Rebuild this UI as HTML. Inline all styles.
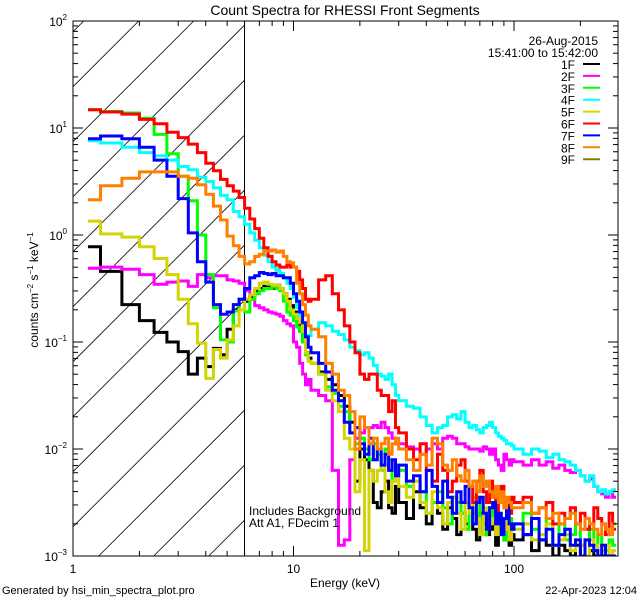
<!DOCTYPE html>
<html><head><meta charset="utf-8">
<style>
html,body{margin:0;padding:0;background:#fff;width:640px;height:600px;overflow:hidden;}
svg{display:block;font-family:"Liberation Sans",sans-serif;}
</style></head>
<body>
<svg id="chart" width="640" height="600" viewBox="0 0 640 600" xmlns="http://www.w3.org/2000/svg">
<rect x="0" y="0" width="640" height="600" fill="#fff"/>
<text x="345" y="15" font-size="14" text-anchor="middle">Count Spectra for RHESSI Front Segments</text>
<defs><clipPath id="plotclip"><rect x="73" y="21" width="545" height="535"/></clipPath></defs>
<g id="hatch"></g>
<line x1="244.5" y1="21" x2="244.5" y2="556" stroke="#000" stroke-width="1"/>
<g id="series" clip-path="url(#plotclip)"></g>
<rect x="73" y="21" width="545" height="535" fill="none" stroke="#000" stroke-width="1"/>
<g id="axes"></g>
<text x="345" y="587" font-size="12" text-anchor="middle">Energy (keV)</text>
<text transform="translate(38,290) rotate(-90)" font-size="12" text-anchor="middle">counts cm<tspan font-size="8" dy="-5">−2</tspan><tspan dy="5"> s</tspan><tspan font-size="8" dy="-5">−1</tspan><tspan dy="5"> keV</tspan><tspan font-size="8" dy="-5">−1</tspan></text>
<text x="249" y="515" font-size="12">Includes Background</text>
<text x="249" y="527" font-size="12">Att A1, FDecim  1</text>
<text x="598" y="45" font-size="12" text-anchor="end">26-Aug-2015</text>
<text x="598" y="57" font-size="12" text-anchor="end">15:41:00 to 15:42:00</text>
<g id="legend"></g>
<text x="2" y="594" font-size="11">Generated by hsi_min_spectra_plot.pro</text>
<text x="637" y="594" font-size="11" text-anchor="end">22-Apr-2023 12:04</text>
</svg>
<script>
const segNames = ["1F","2F","3F","4F","5F","6F","7F","8F","9F"];
const segColors = ["#000000","#ff00ff","#00ff00","#00ffff","#d4d400","#ff0000","#0000ff","#ff8000","#808000"];
const xTickLabels = ["1","10","100"];
const yTickExps = ["2","1","0","−1","−2","−3"];
// log10(counts) per energy bin (bins: 1/3 keV to 12, 1 keV to 30, 2.5 keV to 100, 10 keV to 290)
const log1F = [-0.11,-0.34,-0.65,-0.80,-0.91,-1.0,-1.09,-1.3,-1.15,-1.23,-1.06,-1.12,-0.88,-0.7,-0.6,
 -0.62,-0.58,-0.52,-0.5,-0.48,-0.48,-0.5,-0.47,-0.5,-0.55,-0.6,-0.66,-0.72,-0.8,-0.9,-1.0,-1.1,-1.15,
 -1.2,-1.28,-1.35,-1.4,-1.5,-1.6,-1.75,-2.3,-2.0,-2.1,-2.2,-2.5,-2.55,-2.4,-2.3,-2.55,-2.6,-2.35,
 -2.5,-2.65,-2.4,-2.55,-2.7,-2.5,-2.6,-2.75,-2.55,-2.65,-2.8,-2.6,-2.7,-2.55,-2.75,-2.85,-2.6,-2.7,-2.8,-2.65,-2.75,-2.9,-2.7,-2.75,-2.85,-2.7,-2.9,-2.8,
 -2.85,-2.8,-2.95,-2.85,-2.9,-3.0,-2.9,-2.95,-3.05,-2.9,-3.0,-3.05,-2.95,-3.0,-3.1,-3.0,-3.05,-3.1,-3.05];
const log2F = [-0.31,-0.30,-0.32,-0.37,-0.46,-0.44,-0.43,-0.48,-0.37,-0.4,-0.38,-0.38,-0.42,-0.43,-0.45,
 -0.52,-0.6,-0.66,-0.68,-0.7,-0.72,-0.73,-0.74,-0.76,-0.8,-0.83,-0.85,-1.0,-1.05,-1.2,-1.3,-1.4,-1.35,
 -1.45,-1.5,-1.55,-2.2,-2.9,-2.85,-2.1,-1.9,-1.85,-1.8,-1.8,-1.78,-1.8,-1.75,-1.8,-1.85,-1.9,-1.95,
 -1.95,-1.98,-2.0,-2.05,-2.0,-1.95,-2.0,-1.9,-1.88,-1.9,-1.95,-1.95,-1.98,-2.0,-2.0,-2.0,-2.02,-1.98,-2.0,-2.05,-2.0,-2.1,-2.15,-2.2,-2.05,-2.1,-2.15,-2.1,
 -2.12,-2.15,-2.1,-2.15,-2.12,-2.18,-2.15,-2.2,-2.22,-2.2,-2.25,-2.3,-2.28,-2.35,-2.4,-2.42,-2.45,-2.4,-2.45];
const log3F = [1.17,1.154,1.14,1.09,0.94,0.76,0.55,0.32,0.0,-0.37,-0.68,-0.98,-1.0,-0.71,-0.6,
 -0.72,-0.6,-0.55,-0.52,-0.5,-0.5,-0.48,-0.5,-0.52,-0.62,-0.72,-0.75,-0.8,-0.86,-0.9,-1.0,-1.12,-1.18,
 -1.2,-1.3,-1.42,-1.48,-1.6,-1.65,-1.85,-1.95,-1.9,-2.0,-2.1,-1.95,-2.05,-2.2,-2.0,-2.1,-2.3,-2.15,
 -2.2,-2.35,-2.3,-2.4,-2.6,-2.5,-2.4,-2.55,-2.7,-2.45,-2.5,-2.6,-2.75,-2.55,-2.6,-2.45,-2.7,-2.8,-2.6,-2.55,-2.65,-2.75,-2.6,-2.7,-2.85,-2.6,-2.65,-2.7,
 -2.7,-2.6,-2.75,-2.8,-2.65,-2.9,-2.7,-2.85,-2.8,-2.7,-2.9,-2.85,-2.75,-2.95,-2.8,-2.9,-2.95,-2.85,-2.9];
const log4F = [0.88,0.86,0.82,0.77,0.74,0.70,0.64,0.61,0.54,0.50,0.44,0.37,0.33,0.22,0.17,
 0.1,0.02,-0.05,-0.12,-0.19,-0.25,-0.3,-0.33,-0.36,-0.4,-0.45,-0.5,-0.58,-0.68,-0.8,-0.9,-0.98,-0.94,
 -0.88,-0.82,-0.85,-0.9,-0.93,-0.98,-1.05,-1.08,-1.12,-1.1,-1.15,-1.22,-1.3,-1.32,-1.35,-1.3,-1.4,-1.5,
 -1.55,-1.6,-1.62,-1.7,-1.78,-1.85,-1.8,-1.78,-1.7,-1.68,-1.72,-1.65,-1.75,-1.8,-1.78,-1.82,-1.85,-1.8,-1.78,-1.75,-1.8,-1.85,-1.88,-1.9,-1.92,-1.95,-1.95,-1.97,
 -2.0,-2.05,-2.0,-2.02,-2.08,-2.05,-2.1,-2.12,-2.15,-2.2,-2.25,-2.3,-2.25,-2.35,-2.4,-2.38,-2.42,-2.4,-2.38];
const log5F = [0.13,0.01,-0.02,-0.11,-0.22,-0.37,-0.6,-0.83,-1.01,-1.34,-1.07,-1.15,-0.98,-0.85,-0.7,
 -0.6,-0.56,-0.5,-0.45,-0.44,-0.46,-0.47,-0.47,-0.5,-0.55,-0.62,-0.7,-0.74,-0.78,-0.82,-0.9,-1.1,-1.18,
 -1.2,-1.3,-1.45,-1.55,-1.65,-1.9,-2.0,-2.4,-2.1,-2.95,-2.2,-2.3,-2.2,-2.15,-2.4,-2.5,-2.3,-2.2,
 -2.35,-2.45,-2.3,-2.5,-2.6,-2.4,-2.55,-2.7,-2.5,-2.45,-2.6,-2.75,-2.5,-2.6,-2.45,-2.65,-2.8,-2.55,-2.6,-2.7,-2.65,-2.8,-2.6,-2.7,-2.75,-2.6,-2.85,-2.7,
 -2.75,-2.7,-2.85,-2.8,-2.7,-2.9,-2.85,-2.8,-2.95,-2.85,-2.9,-3.0,-2.85,-2.9,-3.05,-2.95,-2.9,-3.0,-2.95];
const log6F = [1.17,1.15,1.13,1.08,1.04,0.96,0.91,0.85,0.77,0.67,0.60,0.52,0.46,0.41,0.35,
 0.25,0.15,0.06,-0.03,-0.12,-0.2,-0.25,-0.28,-0.3,-0.3,-0.28,-0.3,-0.3,-0.34,-0.42,-0.5,-0.6,-0.62,
 -0.6,-0.42,-0.38,-0.55,-0.7,-0.85,-1.0,-1.1,-1.3,-1.35,-1.3,-1.3,-1.45,-1.5,-1.5,-1.65,-1.55,-1.8,
 -1.85,-2.0,-2.1,-1.95,-2.2,-2.3,-2.05,-2.2,-2.4,-2.3,-2.15,-2.1,-2.3,-2.35,-2.5,-2.3,-2.2,-2.4,-2.5,-2.3,-2.45,-2.6,-2.4,-2.35,-2.55,-2.5,-2.6,-2.45,
 -2.5,-2.45,-2.6,-2.55,-2.5,-2.7,-2.6,-2.65,-2.55,-2.7,-2.6,-2.75,-2.7,-2.55,-2.65,-2.7,-2.8,-2.6,-2.75];
const log7F = [0.90,0.925,0.90,0.82,0.70,0.55,0.34,0.02,-0.25,-0.44,-0.65,-0.74,-0.72,-0.65,-0.6,
 -0.5,-0.4,-0.38,-0.35,-0.36,-0.37,-0.36,-0.38,-0.38,-0.4,-0.4,-0.45,-0.55,-0.62,-0.72,-0.82,-0.95,-1.05,
 -1.1,-1.2,-1.28,-1.45,-1.55,-1.75,-1.85,-1.8,-1.95,-2.05,-1.9,-2.1,-2.0,-2.15,-2.05,-2.2,-2.1,-2.25,
 -2.15,-2.3,-2.25,-2.4,-2.2,-2.35,-2.5,-2.3,-2.45,-2.6,-2.4,-2.5,-2.35,-2.55,-2.7,-2.5,-2.45,-2.6,-2.75,-2.55,-2.5,-2.7,-2.6,-2.8,-2.65,-2.55,-2.7,-2.75,
 -2.7,-2.8,-2.65,-2.85,-2.75,-2.9,-2.8,-2.75,-2.9,-2.85,-3.0,-2.85,-2.9,-2.95,-3.0,-2.9,-3.05,-3.0,-3.0];
const log8F = [0.33,0.46,0.53,0.59,0.59,0.59,0.55,0.53,0.47,0.38,0.27,0.14,-0.01,-0.10,-0.2,
 -0.27,-0.25,-0.2,-0.18,-0.15,-0.15,-0.14,-0.16,-0.15,-0.2,-0.25,-0.26,-0.3,-0.45,-0.55,-0.65,-0.75,-0.85,
 -0.88,-0.95,-1.2,-1.3,-1.45,-1.5,-1.65,-2.0,-1.7,-1.8,-1.95,-1.9,-2.0,-1.95,-1.9,-2.05,-1.95,-1.9,
 -2.0,-2.1,-2.2,-2.05,-2.15,-1.9,-1.95,-2.15,-2.2,-2.1,-2.25,-2.3,-2.2,-2.35,-2.3,-2.4,-2.25,-2.35,-2.3,-2.4,-2.45,-2.35,-2.5,-2.4,-2.55,-2.45,-2.5,-2.55,
 -2.55,-2.5,-2.6,-2.55,-2.65,-2.6,-2.7,-2.65,-2.6,-2.7,-2.75,-2.65,-2.7,-2.75,-2.8,-2.7,-2.75,-2.8,-2.7];
const log9F = [];

const NS = "http://www.w3.org/2000/svg";
const X0 = 73, X1 = 618, Y0 = 21, Y1 = 556, XH = 244.5;
const PXDEC = 220.5, YDEC = 107;
function xs(e){ return X0 + PXDEC*Math.log10(e); }
function ys(l){ return Y0 + (2 - l)*YDEC; }
function mk(tag, attrs, parent){ const el=document.createElementNS(NS,tag); for(const k in attrs) el.setAttribute(k, attrs[k]); parent.appendChild(el); return el; }

const edges = [1.17];
for(let k=0;k<=32;k++) edges.push(4/3 + k/3);
for(let e=13;e<=30;e++) edges.push(e);
for(let k=1;k<=28;k++) edges.push(30 + 2.5*k);
for(let e=110;e<=290;e+=10) edges.push(e);

// hatch lines x + y = c, clipped to hatch rectangle
const hatch = document.getElementById('hatch');
for(let c=49.7; c<900; c+=55){
  const xa = Math.max(X0, c - Y1), xb = Math.min(XH, c - Y0);
  if(xb <= xa) continue;
  const ln = mk('line',{x1:xa,y1:c-xa,x2:xb,y2:c-xb,stroke:'#000','stroke-width':0.8},hatch);
  
  
}

const seriesData = [log1F,log2F,log3F,log4F,log5F,log6F,log7F,log8F,log9F];
const sg = document.getElementById('series');
seriesData.forEach((vals,si)=>{
  if(!vals.length) return;
  let d = "";
  const n = Math.min(vals.length, edges.length-1);
  for(let i=0;i<n;i++){
    const y = Math.min(Y1, Math.max(Y0, ys(vals[i]))).toFixed(1);
    d += (i===0?"M":"L") + xs(edges[i]).toFixed(1) + " " + y + " L" + Math.min(X1, xs(edges[i+1])).toFixed(1) + " " + y + " ";
  }
  const p = mk('path',{d:d,fill:'none',stroke:segColors[si],'stroke-width':3,'stroke-linejoin':'miter'},sg);
  
  
});

const ax = document.getElementById('axes');
for(let dec=0; dec<3; dec++){
  for(let m=1;m<10;m++){
    const e = Math.pow(10,dec)*m;
    const x = xs(e);
    if(x > X1+0.5) break;
    const len = m===1?10:5;
    const t1 = mk('line',{x1:x,y1:Y1,x2:x,y2:Y1-len,stroke:'#000','stroke-width':1},ax);
    
    
    const t2 = mk('line',{x1:x,y1:Y0,x2:x,y2:Y0+len,stroke:'#000','stroke-width':1},ax);
    
    
  }
  const lbl = mk('text',{x:xs(Math.pow(10,dec)),y:573,'font-size':12,'text-anchor':'middle'},ax);
  lbl.textContent = xTickLabels[dec];
  
  
}
for(let i=0;i<yTickExps.length;i++){
  const L = 2 - i;
  const y = ys(L);
  const lbl = mk('text',{x:67,y:y+5,'font-size':12,'text-anchor':'end'},ax);
  lbl.innerHTML = '10<tspan font-size="8" dy="-6">'+yTickExps[i]+'</tspan>';
  
  
  for(let m=1;m<10;m++){
    if(L-1 < -3) break;
    const yy = ys(L - 1 + Math.log10(m));
    const len = m===1?10:5;
    const a = mk('line',{x1:X0,y1:yy,x2:X0+len,y2:yy,stroke:'#000','stroke-width':1},ax);
    
    
    const b = mk('line',{x1:X1,y1:yy,x2:X1-len,y2:yy,stroke:'#000','stroke-width':1},ax);
    
    
  }
}

const lg = document.getElementById('legend');
segNames.forEach((nm,i)=>{
  const y = 64 + i*11.9;
  const t = mk('text',{x:575,y:y+5,'font-size':12,'text-anchor':'end'},lg);
  t.textContent = nm;
  
  
  const l = mk('line',{x1:583,y1:y,x2:600,y2:y,stroke:segColors[i],'stroke-width':2},lg);
  
  
});
</script>
</body></html>
